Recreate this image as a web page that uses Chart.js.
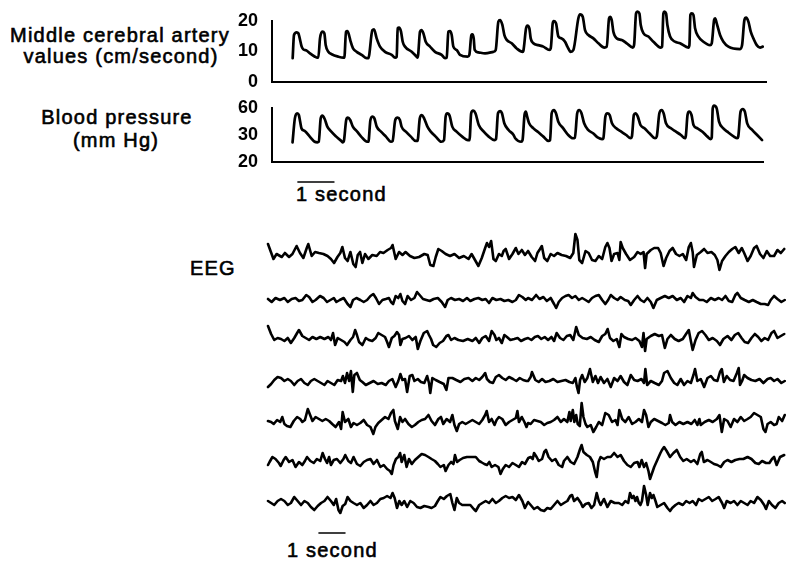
<!DOCTYPE html>
<html><head><meta charset="utf-8">
<script src="https://cdn.jsdelivr.net/npm/chart.js@4.4.1/dist/chart.umd.min.js"></script>
<style>
html,body{margin:0;padding:0;background:#fff;width:786px;height:562px;overflow:hidden;position:relative;}
canvas{position:absolute;}
.t{position:absolute;font-family:"Liberation Sans",Arial,sans-serif;font-size:20px;line-height:20px;letter-spacing:1.2px;color:#000;white-space:nowrap;-webkit-text-stroke:0.6px #000;}
</style></head><body>
<div class="t" style="left:0;width:240px;text-align:center;top:25px">Middle cerebral artery</div>
<div class="t" style="left:0;width:242px;text-align:center;top:46px">values (cm/second)</div>
<div class="t" style="left:0;width:234px;text-align:center;top:107px">Blood pressure</div>
<div class="t" style="left:0;width:232px;text-align:center;top:130px">(mm Hg)</div>
<div class="t" style="left:190px;top:258px">EEG</div>
<div class="t" style="left:296px;top:184px">1 second</div>
<div class="t" style="left:287px;top:540px">1 second</div>
<script>
// ---------- data ----------
const MCA_TICKS = [0, 10, 20];          // cm/second
const BP_TICKS = [20, 30, 60];          // mm Hg (axis as printed)
const TOP_SECONDS = 13.72;              // time span of the top traces (s)
const EEG_SECONDS = 19.88;              // time span of the EEG traces (s)
const SCALE_BAR_TOP = [0.72, 1.72];     // 1 second bar (s)
const SCALE_BAR_EEG = [1.96, 2.96];     // 1 second bar (s)

// [time s, velocity cm/s]
const MCA = [
[0.574,7.8],[0.611,15.4],[0.685,16.3],[0.731,16.0],[0.759,14.9],[0.824,11.6],[0.870,10.7],[0.963,10.3],[1.056,9.4],[1.194,8.3],[1.259,8.0],
[1.287,8.0],[1.333,14.3],[1.398,16.5],[1.454,16.0],[1.491,12.1],[1.565,9.9],[1.657,9.1],[1.843,8.3],[1.981,8.0],
[2.009,8.0],[2.056,16.5],[2.093,16.7],[2.139,15.4],[2.185,13.2],[2.250,11.0],[2.352,9.9],[2.491,8.9],[2.630,7.8],
[2.676,7.8],[2.787,17.0],[2.833,17.3],[2.907,14.3],[3.0,11.6],[3.139,9.9],[3.324,8.9],[3.417,8.0],
[3.463,8.3],[3.491,17.6],[3.528,17.8],[3.583,16.5],[3.630,13.2],[3.694,11.6],[3.880,9.9],[4.019,8.3],
[4.046,8.0],[4.111,16.5],[4.148,17.0],[4.204,16.0],[4.269,13.2],[4.389,11.6],[4.528,9.9],[4.713,8.9],[4.806,7.8],
[4.852,8.0],[4.898,16.5],[4.944,16.7],[4.991,15.4],[5.037,11.6],[5.130,10.5],[5.222,8.9],[5.435,8.3],
[5.481,8.9],[5.537,15.4],[5.565,15.6],[5.602,14.3],[5.630,10.5],[5.731,9.7],[5.917,9.4],[6.148,9.9],
[6.213,10.5],[6.287,19.8],[6.333,20.3],[6.398,18.7],[6.454,15.4],[6.519,13.8],[6.657,12.7],[6.796,11.0],[6.963,9.9],
[6.981,10.2],[7.056,17.6],[7.093,18.5],[7.148,17.6],[7.185,14.3],[7.259,12.7],[7.398,12.1],[7.537,11.6],[7.704,10.5],
[7.741,11.0],[7.796,19.2],[7.824,20.0],[7.889,19.2],[7.954,14.9],[8.046,14.3],[8.139,13.2],[8.204,11.6],[8.296,9.9],
[8.370,10.5],[8.509,20.9],[8.556,22.2],[8.630,21.4],[8.694,17.0],[8.787,15.4],[8.926,14.3],[9.065,12.7],[9.231,11.3],
[9.296,11.6],[9.361,20.9],[9.389,21.4],[9.435,20.3],[9.481,16.5],[9.574,14.3],[9.713,13.8],[9.852,12.7],[10.019,11.3],
[10.056,12.1],[10.111,22.5],[10.148,23.1],[10.204,22.5],[10.241,18.7],[10.315,16.0],[10.454,14.9],[10.593,13.2],[10.796,11.3],
[10.833,11.6],[10.870,22.5],[10.898,23.1],[10.944,22.5],[10.981,18.7],[11.056,14.9],[11.194,13.2],[11.333,12.7],[11.565,11.3],
[11.593,12.1],[11.620,22.0],[11.657,22.5],[11.704,22.0],[11.750,17.6],[11.843,14.9],[11.981,13.2],[12.167,12.1],
[12.213,12.7],[12.278,20.3],[12.306,20.9],[12.352,19.2],[12.444,15.4],[12.537,13.2],[12.676,11.6],[13.0,10.8],
[13.056,12.1],[13.120,20.3],[13.167,21.1],[13.231,19.8],[13.296,16.5],[13.370,14.3],[13.463,12.1],[13.556,11.3],[13.630,11.6]
];

// [time s, pressure mm Hg]
const BP = [
[0.574,27.3],[0.639,48.5],[0.704,54.1],[0.750,52.2],[0.787,44.8],[0.824,37.4],[0.917,34.4],[1.056,29.4],[1.194,27.5],[1.269,27.3],
[1.306,27.5],[1.361,48.5],[1.407,51.5],[1.472,47.8],[1.546,39.3],[1.657,33.7],[1.796,29.4],[1.935,27.8],[1.981,27.3],
[2.009,27.8],[2.074,46.7],[2.120,49.2],[2.185,46.7],[2.259,39.3],[2.380,33.7],[2.491,29.4],[2.657,27.5],
[2.694,27.5],[2.750,46.7],[2.815,50.4],[2.861,48.5],[2.926,39.3],[3.046,33.7],[3.185,29.4],[3.324,27.5],
[3.370,27.8],[3.444,46.7],[3.509,49.2],[3.574,46.7],[3.620,39.3],[3.741,33.7],[3.880,29.4],[4.019,27.8],
[4.065,27.8],[4.130,48.5],[4.185,52.2],[4.250,48.5],[4.343,39.3],[4.435,33.7],[4.574,29.4],[4.731,27.5],
[4.806,28.1],[4.852,50.4],[4.898,54.1],[4.963,51.5],[5.037,39.3],[5.157,33.7],[5.315,29.4],[5.472,28.1],
[5.519,28.1],[5.565,54.1],[5.620,57.0],[5.685,54.1],[5.778,41.1],[5.917,33.7],[6.056,29.4],[6.213,28.1],
[6.259,28.5],[6.315,54.1],[6.380,56.6],[6.426,54.1],[6.491,43.0],[6.611,35.6],[6.750,30.0],[6.796,28.8],[6.963,27.5],
[7.0,28.1],[7.056,52.2],[7.093,55.9],[7.130,50.4],[7.185,43.0],[7.306,37.4],[7.444,33.0],[7.583,29.4],[7.722,27.8],
[7.769,28.1],[7.815,54.1],[7.880,57.8],[7.935,54.1],[8.0,44.8],[8.139,37.4],[8.278,30.0],[8.407,28.8],
[8.463,29.0],[8.528,54.1],[8.583,57.8],[8.648,54.1],[8.722,43.0],[8.833,35.6],[8.972,31.9],[9.111,29.0],[9.222,28.5],
[9.259,28.8],[9.315,50.4],[9.370,54.1],[9.435,52.2],[9.5,43.0],[9.620,37.4],[9.759,33.7],[9.898,30.0],[10.019,28.8],
[10.056,29.4],[10.111,52.2],[10.157,54.1],[10.222,50.4],[10.296,41.1],[10.407,37.4],[10.546,31.9],[10.704,28.8],
[10.750,29.4],[10.824,54.1],[10.889,57.8],[10.944,54.1],[11.009,43.0],[11.148,37.4],[11.287,33.7],[11.426,30.0],[11.537,28.8],
[11.565,29.8],[11.611,52.2],[11.657,55.9],[11.722,52.2],[11.778,41.1],[11.889,37.4],[12.028,33.7],[12.167,29.4],[12.259,28.5],
[12.287,29.0],[12.315,59.6],[12.352,62.6],[12.426,59.6],[12.491,44.8],[12.611,37.4],[12.722,33.7],[12.907,29.4],[13.0,28.8],
[13.028,29.4],[13.093,55.9],[13.157,58.9],[13.213,55.9],[13.278,43.0],[13.417,35.6],[13.556,30.0],[13.694,28.1]
];

// EEG channels: [time s, amplitude (arbitrary units)]
const EEG_1 = [
[0,12],[0.21,-3],[0.33,2],[0.53,-1],[0.65,3],[0.81,-1],[0.94,2],[1.10,10],[1.23,3],[1.36,-2],[1.49,8],[1.55,12],[1.68,0],[1.81,4],[1.96,3],[2.13,2],[2.29,0],[2.42,-3],[2.54,-7],[2.67,-1],[2.78,3],[2.86,9],[2.96,-2],[3.06,-5],[3.17,4],[3.28,-8],[3.37,-11],[3.45,1],[3.54,4],[3.63,-7],[3.73,2],[3.86,-3],[4.01,1],[4.18,0],[4.31,4],[4.44,3],[4.60,6],[4.73,8],[4.79,11],[4.91,-3],[5.04,4],[5.17,1],[5.29,4],[5.46,0],[5.63,-2],[5.81,-1],[6.01,2],[6.14,1],[6.24,-9],[6.36,-10],[6.45,-1],[6.55,7],[6.68,5],[6.83,2],[7.0,0],[7.17,2],[7.35,-2],[7.53,0],[7.71,-3],[7.83,2],[7.96,-4],[8.09,-10],[8.22,-2],[8.35,8],[8.42,13],[8.50,9],[8.58,15],[8.67,-3],[8.76,-5],[8.88,2],[8.99,0],[9.06,5],[9.14,7],[9.27,-3],[9.40,2],[9.53,8],[9.63,2],[9.76,6],[9.88,1],
[10.0,5],[10.14,-1],[10.27,-5],[10.36,3],[10.46,7],[10.53,10],[10.62,-2],[10.74,-5],[10.87,2],[11.0,0],[11.13,3],[11.29,1],[11.46,0],[11.62,-2],[11.74,3],[11.82,22],[11.90,16],[11.97,-4],[12.08,-7],[12.21,5],[12.33,3],[12.46,-4],[12.59,-5],[12.72,0],[12.85,-3],[12.97,9],[13.05,13],[13.13,8],[13.21,-5],[13.31,2],[13.44,3],[13.51,-4],[13.56,14],[13.64,8],[13.77,2],[13.92,-4],[14.08,-1],[14.21,4],[14.33,2],[14.44,4],[14.50,-12],[14.56,2],[14.72,6],[14.85,8],[15.0,8],[15.10,3],[15.21,-10],[15.31,-2],[15.44,5],[15.56,8],[15.69,2],[15.82,0],[15.95,2],[16.08,-4],[16.18,9],[16.26,13],[16.33,4],[16.38,-11],[16.49,1],[16.64,4],[16.77,7],[16.90,3],[17.05,4],[17.18,1],[17.28,-4],[17.36,-14],[17.46,-5],[17.59,0],[17.72,4],[17.85,7],[17.97,9],[18.10,3],[18.22,8],[18.31,3],[18.44,-5],[18.56,0],[18.69,8],[18.79,10],[18.92,2],[19.05,-2],[19.18,5],[19.31,0],[19.46,0],[19.59,6],[19.72,3],[19.85,7]
];
const EEG_2 = [
[0,1],[0.14,-2],[0.29,2],[0.46,0],[0.63,2],[0.76,-2],[0.91,1],[1.06,2],[1.19,-1],[1.32,0],[1.47,5],[1.58,3],[1.71,-2],[1.83,0],[2.0,4],[2.14,2],[2.27,-2],[2.40,0],[2.53,2],[2.63,-2],[2.76,0],[2.91,2],[3.06,-4],[3.17,-7],[3.27,0],[3.40,2],[3.55,0],[3.68,-2],[3.81,0],[3.94,4],[4.05,6],[4.15,2],[4.27,-4],[4.40,0],[4.53,1],[4.65,2],[4.73,-2],[4.81,-4],[4.91,4],[5.01,2],[5.09,6],[5.17,-1],[5.27,-4],[5.37,4],[5.50,0],[5.63,2],[5.73,8],[5.83,5],[5.96,1],[6.09,0],[6.22,-1],[6.37,1],[6.53,2],[6.68,-2],[6.81,-7],[6.91,0],[7.04,2],[7.19,0],[7.35,1],[7.50,-1],[7.65,2],[7.78,-1],[7.94,1],[8.09,2],[8.24,0],[8.37,1],[8.50,-3],[8.63,2],[8.78,0],[8.94,1],[9.09,-1],[9.24,0],[9.40,-2],[9.53,0],[9.65,5],[9.78,3],[9.91,0],
[10.0,2],[10.15,0],[10.31,5],[10.44,1],[10.59,3],[10.72,-1],[10.87,2],[11.0,-4],[11.08,-8],[11.18,-2],[11.31,2],[11.44,4],[11.56,5],[11.69,2],[11.82,4],[11.95,0],[12.08,2],[12.21,0],[12.33,-2],[12.46,2],[12.59,4],[12.72,5],[12.85,0],[12.97,-4],[13.08,0],[13.18,5],[13.31,2],[13.44,0],[13.56,3],[13.72,0],[13.85,-1],[13.95,-5],[14.08,0],[14.21,4],[14.33,0],[14.46,-2],[14.59,2],[14.72,-2],[14.82,-8],[14.95,0],[15.10,2],[15.26,4],[15.41,2],[15.56,4],[15.72,0],[15.87,2],[16.0,-2],[16.13,4],[16.26,2],[16.33,7],[16.44,3],[16.59,0],[16.74,0],[16.87,-2],[17.03,2],[17.18,0],[17.33,2],[17.46,0],[17.59,4],[17.72,-1],[17.85,-2],[17.97,5],[18.05,7],[18.18,2],[18.33,0],[18.49,-2],[18.64,0],[18.79,-2],[18.95,-4],[19.10,-4],[19.23,-5],[19.33,0],[19.46,4],[19.59,1],[19.74,-2],[19.87,0]
];
const EEG_3 = [
[0,12],[0.12,4],[0.24,-2],[0.37,0],[0.50,-1],[0.63,-3],[0.76,0],[0.88,-5],[1.01,0],[1.12,5],[1.19,8],[1.32,2],[1.45,0],[1.58,-2],[1.71,1],[1.86,-1],[2.01,1],[2.17,-1],[2.32,1],[2.42,-2],[2.50,5],[2.58,-7],[2.68,0],[2.81,-2],[2.94,-4],[3.04,-7],[3.17,-2],[3.27,1],[3.35,8],[3.42,3],[3.50,-4],[3.63,-7],[3.76,0],[3.88,-2],[4.01,-3],[4.14,0],[4.24,5],[4.37,3],[4.50,1],[4.58,-4],[4.65,-9],[4.76,0],[4.86,2],[4.96,6],[5.04,3],[5.09,-7],[5.17,-1],[5.29,0],[5.42,2],[5.55,-2],[5.68,1],[5.76,-11],[5.86,-3],[5.99,5],[6.12,7],[6.19,3],[6.27,-1],[6.35,-7],[6.47,-9],[6.60,-5],[6.73,-3],[6.86,2],[6.94,3],[7.04,-2],[7.17,0],[7.32,-2],[7.50,-3],[7.68,-1],[7.86,-3],[7.99,0],[8.12,-5],[8.24,0],[8.37,2],[8.50,-3],[8.60,7],[8.71,3],[8.78,-2],[8.88,0],[8.99,-5],[9.09,3],[9.19,1],[9.32,-2],[9.47,-1],[9.60,0],[9.73,-3],[9.88,-1],
[10.0,0],[10.13,-2],[10.26,1],[10.38,2],[10.51,-1],[10.64,1],[10.77,-2],[10.90,1],[11.0,-3],[11.10,5],[11.23,0],[11.36,-2],[11.49,2],[11.62,3],[11.74,-2],[11.85,11],[11.95,3],[12.10,0],[12.26,-1],[12.41,1],[12.56,-2],[12.72,-4],[12.85,2],[12.97,4],[13.06,9],[13.15,0],[13.28,-3],[13.41,-1],[13.51,-9],[13.59,4],[13.69,1],[13.85,-1],[14.0,-2],[14.13,0],[14.28,-3],[14.38,-9],[14.44,5],[14.50,-13],[14.56,-1],[14.72,2],[14.87,4],[15.03,2],[15.15,3],[15.26,-10],[15.36,-1],[15.49,3],[15.64,-1],[15.79,-3],[15.95,-1],[16.10,5],[16.18,8],[16.26,-3],[16.33,-12],[16.44,-2],[16.56,5],[16.69,7],[16.82,3],[16.95,-2],[17.10,0],[17.26,-3],[17.38,-7],[17.51,-1],[17.67,2],[17.82,-2],[17.95,3],[18.08,5],[18.21,0],[18.33,-4],[18.46,-5],[18.59,0],[18.72,4],[18.85,1],[18.97,-3],[19.10,0],[19.23,-2],[19.36,5],[19.46,7],[19.59,0],[19.72,2],[19.85,4]
];
const EEG_4 = [
[0,-4],[0.12,-1],[0.24,3],[0.37,6],[0.50,5],[0.63,2],[0.76,4],[0.88,2],[1.01,-2],[1.14,2],[1.27,4],[1.40,0],[1.53,-2],[1.65,2],[1.78,4],[1.91,2],[2.04,0],[2.17,-2],[2.29,2],[2.42,0],[2.55,-2],[2.68,3],[2.81,2],[2.88,7],[2.96,0],[3.04,10],[3.12,2],[3.19,12],[3.26,-9],[3.32,8],[3.42,10],[3.53,3],[3.63,1],[3.76,-2],[3.91,0],[4.06,2],[4.22,-1],[4.37,0],[4.53,-2],[4.65,2],[4.78,4],[4.91,-4],[5.01,2],[5.09,9],[5.17,3],[5.27,4],[5.35,-9],[5.45,7],[5.55,8],[5.63,2],[5.76,4],[5.88,1],[6.01,0],[6.12,7],[6.19,0],[6.24,-10],[6.32,5],[6.45,3],[6.60,1],[6.76,-1],[6.86,-7],[6.94,5],[7.09,5],[7.24,3],[7.40,1],[7.55,4],[7.71,5],[7.86,2],[7.99,5],[8.12,3],[8.24,6],[8.35,10],[8.42,4],[8.53,1],[8.65,0],[8.76,6],[8.88,8],[9.01,5],[9.14,3],[9.27,6],[9.42,4],[9.55,2],[9.68,5],[9.81,3],[9.94,2],
[10.0,2],[10.10,6],[10.15,11],[10.28,3],[10.41,1],[10.54,4],[10.67,1],[10.82,2],[10.97,4],[11.13,1],[11.28,2],[11.44,3],[11.59,1],[11.72,0],[11.82,5],[11.88,-4],[11.94,-10],[12.0,3],[12.08,8],[12.18,1],[12.28,5],[12.38,14],[12.49,1],[12.59,7],[12.69,0],[12.79,6],[12.92,0],[13.05,4],[13.18,-4],[13.31,5],[13.44,2],[13.56,7],[13.69,1],[13.82,-2],[13.95,8],[14.08,3],[14.21,2],[14.36,4],[14.46,0],[14.51,14],[14.58,-2],[14.72,2],[14.87,0],[15.03,-2],[15.15,2],[15.23,10],[15.36,12],[15.49,5],[15.62,0],[15.74,-2],[15.87,4],[16.0,-2],[16.13,2],[16.26,0],[16.36,8],[16.42,14],[16.51,2],[16.64,4],[16.77,-4],[16.90,5],[17.03,7],[17.15,3],[17.28,2],[17.38,11],[17.45,14],[17.53,1],[17.64,7],[17.77,3],[17.90,2],[18.03,10],[18.10,15],[18.15,-2],[18.23,2],[18.31,8],[18.44,5],[18.59,3],[18.74,2],[18.90,4],[19.05,0],[19.21,4],[19.33,5],[19.46,2],[19.59,4],[19.74,0],[19.87,2]
];
const EEG_5 = [
[0,1],[0.12,0],[0.22,-2],[0.35,2],[0.47,0],[0.55,5],[0.63,-2],[0.73,-4],[0.86,-5],[0.99,1],[1.12,5],[1.24,3],[1.32,0],[1.42,2],[1.53,13],[1.62,7],[1.71,1],[1.83,5],[1.96,3],[2.09,1],[2.22,3],[2.35,1],[2.47,-2],[2.60,-5],[2.73,0],[2.81,-7],[2.87,10],[2.96,0],[3.09,3],[3.19,-5],[3.29,-1],[3.42,-3],[3.55,-1],[3.68,2],[3.81,-3],[3.94,-5],[4.05,-12],[4.13,-5],[4.24,-1],[4.37,2],[4.50,5],[4.63,3],[4.73,9],[4.82,12],[4.88,1],[4.99,-7],[5.08,5],[5.17,0],[5.27,3],[5.40,-2],[5.53,-5],[5.65,-3],[5.78,0],[5.91,2],[6.04,3],[6.17,7],[6.29,1],[6.42,-3],[6.55,3],[6.65,5],[6.74,-2],[6.87,3],[7.0,0],[7.09,7],[7.17,-3],[7.26,-9],[7.35,-2],[7.47,0],[7.60,-2],[7.73,0],[7.86,2],[7.99,0],[8.12,-2],[8.24,2],[8.35,7],[8.41,11],[8.50,0],[8.60,3],[8.71,-3],[8.79,2],[8.88,5],[9.01,3],[9.14,-3],[9.27,0],[9.40,2],[9.53,4],[9.59,11],[9.65,0],[9.76,5],[9.86,0],[9.94,-5],
[10.0,-1],[10.10,-2],[10.23,2],[10.36,1],[10.49,0],[10.62,-3],[10.74,-1],[10.87,0],[11.0,2],[11.13,5],[11.26,0],[11.38,3],[11.51,0],[11.59,10],[11.64,1],[11.72,12],[11.78,0],[11.85,7],[11.91,-2],[11.99,-4],[12.06,19],[12.13,5],[12.21,-2],[12.28,-5],[12.41,-3],[12.51,-10],[12.62,-5],[12.72,0],[12.85,-3],[12.97,9],[13.10,7],[13.23,0],[13.36,2],[13.44,-3],[13.51,12],[13.62,3],[13.74,0],[13.87,5],[14.0,-2],[14.13,0],[14.26,3],[14.38,0],[14.46,12],[14.54,7],[14.63,-5],[14.72,0],[14.85,3],[15.0,1],[15.15,-1],[15.28,-3],[15.41,-1],[15.46,7],[15.54,0],[15.67,-3],[15.82,0],[15.97,-2],[16.13,0],[16.28,-2],[16.41,2],[16.51,-3],[16.59,3],[16.64,-3],[16.79,0],[16.95,2],[17.10,0],[17.26,3],[17.36,7],[17.45,-10],[17.54,3],[17.67,1],[17.79,-5],[17.92,3],[18.05,0],[18.18,5],[18.31,1],[18.44,3],[18.56,5],[18.69,9],[18.82,7],[18.95,5],[19.05,-7],[19.13,-10],[19.21,-2],[19.33,0],[19.46,-3],[19.56,-2],[19.64,5],[19.77,1],[19.87,7]
];
const EEG_6 = [
[0,-3],[0.06,0],[0.17,5],[0.29,3],[0.42,-1],[0.49,-4],[0.60,2],[0.68,5],[0.81,0],[0.94,2],[1.06,-5],[1.19,0],[1.32,-3],[1.42,1],[1.50,5],[1.63,1],[1.76,-1],[1.88,3],[2.01,1],[2.10,9],[2.19,3],[2.27,-1],[2.35,5],[2.42,-3],[2.53,2],[2.65,3],[2.78,-1],[2.90,3],[2.97,7],[3.09,1],[3.19,-1],[3.29,5],[3.42,-2],[3.55,-4],[3.68,0],[3.81,2],[3.94,3],[4.06,-2],[4.19,2],[4.32,-5],[4.45,-3],[4.58,-7],[4.69,-9],[4.76,-12],[4.83,-3],[4.92,3],[5.01,5],[5.08,9],[5.14,0],[5.24,7],[5.33,-5],[5.42,3],[5.53,-2],[5.65,2],[5.78,5],[5.91,8],[6.04,7],[6.17,5],[6.29,3],[6.42,1],[6.53,-2],[6.63,-5],[6.76,-3],[6.83,-9],[6.94,-3],[7.04,0],[7.13,-2],[7.19,7],[7.27,0],[7.37,2],[7.50,4],[7.65,5],[7.83,5],[7.99,5],[8.12,1],[8.19,0],[8.32,-2],[8.42,-3],[8.51,0],[8.60,-5],[8.73,-3],[8.86,-5],[8.94,-12],[9.03,-7],[9.14,-3],[9.27,-5],[9.40,-1],[9.53,-3],[9.65,-5],[9.77,0],[9.88,-2],
[10.01,4],[10.10,5],[10.18,3],[10.23,9],[10.33,5],[10.41,1],[10.54,3],[10.62,10],[10.69,12],[10.79,5],[10.92,1],[11.05,3],[11.18,-3],[11.31,-5],[11.38,1],[11.51,5],[11.64,0],[11.77,-2],[11.90,5],[12.0,13],[12.06,17],[12.13,10],[12.26,7],[12.38,5],[12.49,0],[12.58,-10],[12.64,-15],[12.71,0],[12.79,5],[12.92,3],[13.05,5],[13.18,5],[13.31,9],[13.44,5],[13.56,7],[13.69,1],[13.82,-3],[13.95,-5],[14.08,-1],[14.21,0],[14.28,-5],[14.37,2],[14.46,-5],[14.54,-1],[14.63,-9],[14.69,-17],[14.77,-11],[14.85,-5],[14.97,2],[15.09,9],[15.15,12],[15.23,15],[15.33,11],[15.46,5],[15.59,9],[15.72,12],[15.85,5],[15.97,1],[16.10,3],[16.26,0],[16.38,2],[16.51,-2],[16.62,8],[16.68,10],[16.76,0],[16.90,2],[17.03,0],[17.15,-2],[17.28,-3],[17.41,-5],[17.54,0],[17.67,2],[17.82,0],[17.97,2],[18.13,3],[18.28,3],[18.44,5],[18.59,3],[18.74,-1],[18.87,-2],[19.0,1],[19.15,-1],[19.28,-1],[19.38,3],[19.46,5],[19.56,-3],[19.69,5],[19.85,7]
];
const EEG_7 = [
[0,2],[0.12,0],[0.24,-2],[0.37,2],[0.50,4],[0.63,2],[0.76,-2],[0.88,0],[1.01,6],[1.14,2],[1.27,-2],[1.40,2],[1.53,0],[1.65,-4],[1.78,-7],[1.91,-3],[2.04,0],[2.17,2],[2.29,6],[2.42,2],[2.53,-2],[2.62,4],[2.71,-7],[2.78,-10],[2.87,-3],[2.97,-1],[3.06,6],[3.17,2],[3.29,0],[3.42,-2],[3.55,0],[3.68,-5],[3.81,-2],[3.94,2],[4.06,-2],[4.19,0],[4.32,4],[4.45,5],[4.58,7],[4.71,5],[4.79,10],[4.87,5],[4.96,-5],[5.05,2],[5.14,-2],[5.24,2],[5.35,-4],[5.47,2],[5.60,0],[5.73,-4],[5.86,-5],[6.01,-3],[6.17,-4],[6.29,-5],[6.42,-3],[6.53,2],[6.63,6],[6.76,4],[6.88,7],[7.01,9],[7.09,0],[7.17,-7],[7.26,5],[7.35,0],[7.47,-2],[7.63,-2],[7.78,-2],[7.91,-6],[7.99,-8],[8.12,-2],[8.24,0],[8.37,2],[8.50,0],[8.63,4],[8.76,0],[8.88,2],[9.01,5],[9.14,7],[9.27,5],[9.40,6],[9.53,3],[9.65,8],[9.78,2],[9.88,-5],
[10.0,1],[10.10,-2],[10.23,-6],[10.36,-4],[10.49,-7],[10.62,-8],[10.74,-5],[10.87,-6],[11.0,-2],[11.13,2],[11.26,-2],[11.38,0],[11.51,2],[11.62,7],[11.69,8],[11.77,2],[11.90,5],[12.03,0],[12.10,-4],[12.21,-1],[12.33,0],[12.44,-5],[12.54,-2],[12.64,10],[12.72,2],[12.79,-2],[12.92,4],[13.05,-4],[13.18,2],[13.33,0],[13.49,0],[13.62,-2],[13.74,2],[13.85,0],[13.92,10],[14.0,5],[14.06,7],[14.13,2],[14.19,6],[14.26,0],[14.32,-2],[14.38,2],[14.46,17],[14.54,8],[14.60,-2],[14.69,10],[14.76,5],[14.82,8],[14.90,2],[14.97,-4],[15.10,-2],[15.23,0],[15.36,-5],[15.46,-8],[15.54,-5],[15.67,-2],[15.79,0],[15.95,-2],[16.08,2],[16.21,0],[16.33,2],[16.46,-2],[16.56,4],[16.69,2],[16.82,4],[16.95,6],[17.08,2],[17.21,4],[17.33,6],[17.46,0],[17.54,-5],[17.64,2],[17.79,0],[17.92,2],[18.05,-2],[18.18,2],[18.31,0],[18.44,-2],[18.56,2],[18.69,0],[18.82,6],[18.95,3],[19.08,-2],[19.15,-6],[19.26,2],[19.38,-2],[19.51,-5],[19.64,0],[19.77,2],[19.87,0]
];
const EEG_TRACES = [EEG_1, EEG_2, EEG_3, EEG_4, EEG_5, EEG_6, EEG_7];

// ---------- layout (pixels) ----------
const EEG_ROW_CENTERS = [256, 300, 338, 383, 422, 462, 503];

// ---------- custom piecewise scale for the printed BP axis (20 / 30 / 60 evenly spaced) ----------
class PiecewiseScale extends Chart.LinearScale {
  _frac(v) {
    const [a, b, c] = BP_TICKS;
    return v <= b ? (v - a) / (b - a) * 0.5 : 0.5 + (v - b) / (c - b) * 0.5;
  }
  getPixelForValue(v) { return this.getPixelForDecimal(this._frac(v)); }
  getValueForPixel(p) {
    const [a, b, c] = BP_TICKS;
    const f = this.getDecimalForPixel(p);
    return f <= 0.5 ? a + f / 0.5 * (b - a) : b + (f - 0.5) / 0.5 * (c - b);
  }
}
PiecewiseScale.id = 'piecewise';
PiecewiseScale.defaults = Chart.LinearScale.defaults;
Chart.register(PiecewiseScale);

Chart.defaults.font.family = '"Liberation Sans", Arial, sans-serif';
Chart.defaults.color = '#000';

function makeCanvas(left, top, w, h) {
  const c = document.createElement('canvas');
  c.width = w; c.height = h;
  c.style.left = left + 'px'; c.style.top = top + 'px';
  c.style.width = w + 'px'; c.style.height = h + 'px';
  document.body.appendChild(c);
  return c;
}
const pts = arr => arr.map(([x, y]) => ({x, y}));
const baseOpts = (padding, scales) => ({
  responsive: false, animation: false, events: [], devicePixelRatio: 1,
  layout: {padding},
  plugins: {legend: {display: false}, tooltip: {enabled: false}},
  scales
});
const traceDs = (data, width, smooth) => ({
  data: pts(data), borderColor: '#000', borderWidth: width, pointRadius: 0,
  fill: false, clip: false, borderJoinStyle: 'round', borderCapStyle: 'round',
  tension: 0, cubicInterpolationMode: smooth ? 'monotone' : 'default'
});
const axisLine = {display: true, color: '#000', width: 2};
const noGrid = {display: false, drawTicks: false};
// y axes: invisible tick marks give the gap between labels and the axis line
const yGrid = {display: true, drawOnChartArea: false, drawTicks: true, tickLength: 14, tickColor: 'rgba(0,0,0,0)'};
const yTicks = {padding: 0, font: {size: 18, weight: 'bold'}, color: '#000'};

// MCA velocity
new Chart(makeCanvas(190, 0, 596, 95), {
  type: 'line',
  data: {datasets: [traceDs(MCA, 2.7, true)]},
  options: baseOpts({left: 0, top: 21, right: 20, bottom: 13}, {
    x: {type: 'linear', min: 0, max: TOP_SECONDS, ticks: {display: false}, grid: noGrid, border: axisLine},
    y: {type: 'linear', min: MCA_TICKS[0], max: MCA_TICKS[MCA_TICKS.length - 1],
        afterBuildTicks: s => { s.ticks = MCA_TICKS.map(v => ({value: v})); },
        afterFit: s => { s.width = 82; },
        ticks: yTicks, grid: yGrid, border: axisLine}
  })
});

// Blood pressure
new Chart(makeCanvas(190, 95, 596, 80), {
  type: 'line',
  data: {datasets: [traceDs(BP, 2.7, true)]},
  options: baseOpts({left: 0, top: 13, right: 23, bottom: 13}, {
    x: {type: 'linear', min: 0, max: TOP_SECONDS, ticks: {display: false}, grid: noGrid, border: axisLine},
    y: {type: 'piecewise', min: BP_TICKS[0], max: BP_TICKS[BP_TICKS.length - 1],
        afterBuildTicks: s => { s.ticks = BP_TICKS.map(v => ({value: v})); },
        afterFit: s => { s.width = 82; },
        ticks: yTicks, grid: yGrid, border: axisLine}
  })
});

// scale bar for the top traces
new Chart(makeCanvas(190, 175, 596, 14), {
  type: 'line',
  data: {datasets: [traceDs([[SCALE_BAR_TOP[0], 0], [SCALE_BAR_TOP[1], 0]], 1.6, false)]},
  options: baseOpts({left: 82, top: 4, right: 20, bottom: 4}, {
    x: {type: 'linear', min: 0, max: TOP_SECONDS, display: false},
    y: {type: 'linear', min: -1, max: 1, display: false}
  })
});

// EEG channels
EEG_TRACES.forEach((tr, i) => {
  new Chart(makeCanvas(262, EEG_ROW_CENTERS[i] - 30, 524, 60), {
    type: 'line',
    data: {datasets: [traceDs(tr, 2.6, false)]},
    options: baseOpts({left: 6, top: 10, right: 1, bottom: 10}, {
      x: {type: 'linear', min: 0, max: EEG_SECONDS, display: false},
      y: {type: 'linear', min: -20, max: 20, display: false}
    })
  });
});

// scale bar for EEG
new Chart(makeCanvas(262, 526, 524, 14), {
  type: 'line',
  data: {datasets: [traceDs([[SCALE_BAR_EEG[0], 0], [SCALE_BAR_EEG[1], 0]], 1.6, false)]},
  options: baseOpts({left: 6, top: 4, right: 1, bottom: 4}, {
    x: {type: 'linear', min: 0, max: EEG_SECONDS, display: false},
    y: {type: 'linear', min: -1, max: 1, display: false}
  })
});
</script>
</body></html>
